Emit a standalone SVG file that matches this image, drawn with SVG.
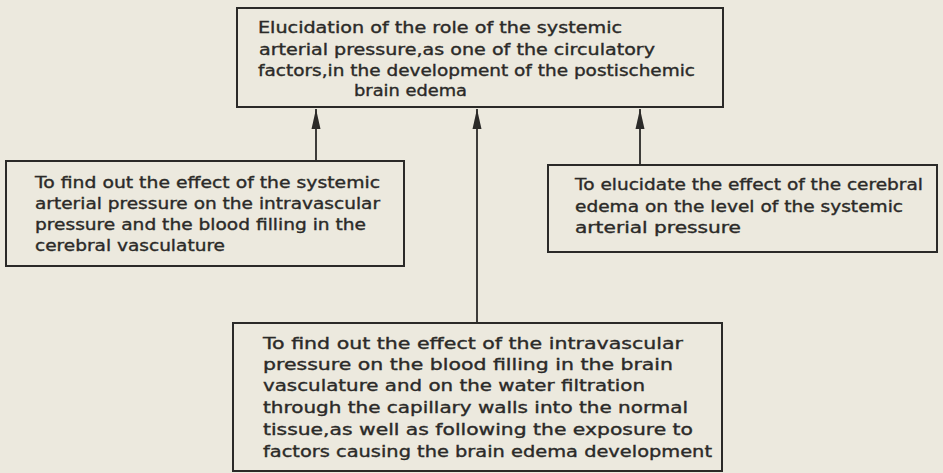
<svg xmlns="http://www.w3.org/2000/svg" width="943" height="473" viewBox="0 0 943 473">
<defs>
<style>
.box{fill:none;stroke:#2b2a28;stroke-width:2}
.conn{stroke:#2b2a28;stroke-width:1.8;fill:none}
text{font-family:"DejaVu Sans","Liberation Sans",sans-serif;font-size:15px;fill:#2b2a28;stroke:#2b2a28;stroke-width:0.35}
</style>
<marker id="arr" viewBox="0 0 21 10" refX="20" refY="5" markerWidth="21" markerHeight="10" markerUnits="userSpaceOnUse" orient="auto">
<path d="M0 0.5 L20 5 L0 9.5 Z" fill="#2b2a28"/>
</marker>
</defs>
<rect width="943" height="473" fill="#ece9de"/>
<g id="connectors">
<line class="conn" x1="316" y1="161" x2="316" y2="109" marker-end="url(#arr)"/>
<line class="conn" x1="477" y1="323" x2="477" y2="109" marker-end="url(#arr)"/>
<line class="conn" x1="640" y1="165" x2="640" y2="109" marker-end="url(#arr)"/>
</g>
<g id="goal">
<rect class="box" x="237" y="8" width="486" height="99"/>
<text x="258" y="33" textLength="364" lengthAdjust="spacingAndGlyphs">Elucidation of the role of the systemic</text>
<text x="259" y="55" textLength="396" lengthAdjust="spacingAndGlyphs">arterial pressure,as one of the circulatory</text>
<text x="258" y="76" textLength="437" lengthAdjust="spacingAndGlyphs">factors,in the development of the postischemic</text>
<text x="354" y="96" textLength="113" lengthAdjust="spacingAndGlyphs">brain edema</text>
</g>
<g id="left">
<rect class="box" x="6" y="161" width="398" height="105"/>
<text x="35" y="188" textLength="345" lengthAdjust="spacingAndGlyphs">To find out the effect of the systemic</text>
<text x="35" y="209" textLength="345" lengthAdjust="spacingAndGlyphs">arterial pressure on the intravascular</text>
<text x="35" y="230" textLength="331" lengthAdjust="spacingAndGlyphs">pressure and the blood filling in the</text>
<text x="35" y="251" textLength="190" lengthAdjust="spacingAndGlyphs">cerebral vasculature</text>
</g>
<g id="right">
<rect class="box" x="548" y="165" width="389" height="87"/>
<text x="575" y="190" textLength="348" lengthAdjust="spacingAndGlyphs">To elucidate the effect of the cerebral</text>
<text x="575" y="212" textLength="328" lengthAdjust="spacingAndGlyphs">edema on the level of the systemic</text>
<text x="575" y="233" textLength="166" lengthAdjust="spacingAndGlyphs">arterial pressure</text>
</g>
<g id="bottom">
<rect class="box" x="233" y="323" width="489" height="148"/>
<text x="263" y="349" textLength="420" lengthAdjust="spacingAndGlyphs">To find out the effect of the  intravascular</text>
<text x="263" y="370" textLength="410" lengthAdjust="spacingAndGlyphs">pressure on the blood filling in the brain</text>
<text x="263" y="391" textLength="382" lengthAdjust="spacingAndGlyphs">vasculature and on the water filtration</text>
<text x="263" y="413" textLength="425" lengthAdjust="spacingAndGlyphs">through the capillary walls into the normal</text>
<text x="263" y="435" textLength="430" lengthAdjust="spacingAndGlyphs">tissue,as well as following the exposure to</text>
<text x="263" y="457" textLength="449" lengthAdjust="spacingAndGlyphs">factors causing  the brain edema development</text>
</g>
</svg>
